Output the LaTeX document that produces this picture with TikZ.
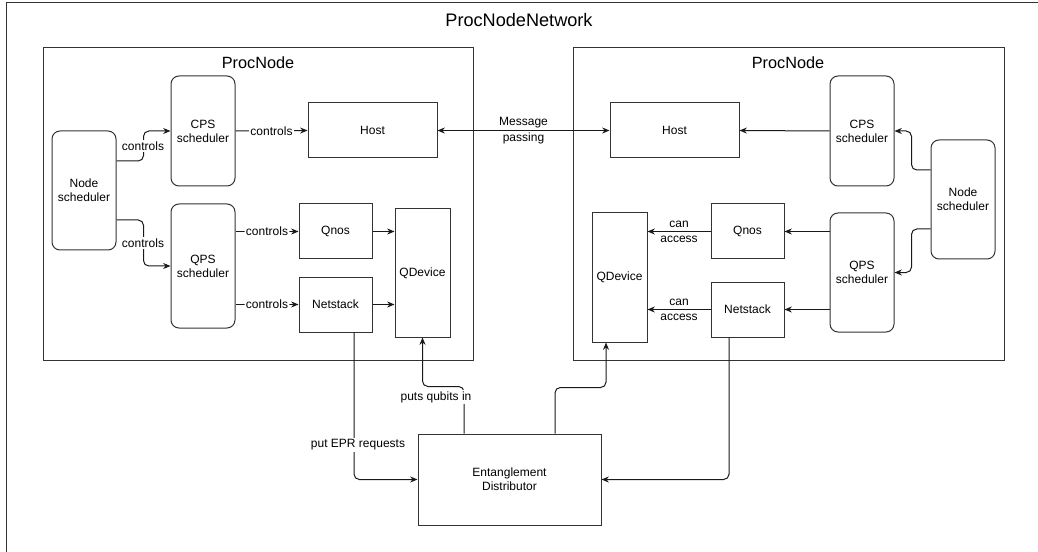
\documentclass[tikz,border=0pt]{standalone}
\usepackage{fontspec}
\setmainfont{Liberation Sans}
\usetikzlibrary{arrows.meta,calc}
\begin{document}
\begin{tikzpicture}[x=0.75pt,y=-0.75pt,
  line width=0.75pt,
  box/.style={draw=black!80, inner sep=0pt, align=center, font=\fontsize{9}{10.5}\selectfont},
  rbox/.style={box, rounded corners=6pt},
  lbl/.style={fill=white, inner sep=1pt, align=center, font=\fontsize{9}{10.5}\selectfont},
  tlbl/.style={inner sep=1pt, align=center, font=\fontsize{9}{11.5}\selectfont},
  arr/.style={draw=black!90, -{Stealth[length=5.5pt,width=4.5pt]}, rounded corners=4pt},
  darr/.style={draw=black!90, {Stealth[length=5.5pt,width=4.5pt]}-{Stealth[length=5.5pt,width=4.5pt]}},
  container/.style={draw=black!80}
]
\clip (0,0) rectangle (1038,552);
\useasboundingbox (0,0) rectangle (1038,552);
% outer frame
\draw[container] (6,3) rectangle (1050,570);
\node[font=\fontsize{13.6}{15}\selectfont] (title) at (519,20) {ProcNodeNetwork};
% containers
\draw[container] (43,48) rectangle (473,360);
\node[font=\fontsize{12.2}{14}\selectfont] (lpn) at (258,63) {ProcNode};
\draw[container] (573,48) rectangle (1004,360);
\node[font=\fontsize{12.2}{14}\selectfont] (rpn) at (788,63) {ProcNode};

% left nodes
\node[rbox, minimum width=48pt, minimum height=89.25pt] (lns) at (84,190.5) {Node\\scheduler};
\node[rbox, minimum width=48pt, minimum height=82.5pt] (lcps) at (203,131) {CPS\\scheduler};
\node[rbox, minimum width=48pt, minimum height=93pt] (lqps) at (203,266) {QPS\\scheduler};
\node[box, minimum width=96.75pt, minimum height=41.25pt] (lhost) at (372.5,130.5) {Host};
\node[box, minimum width=54.75pt, minimum height=41.25pt] (lqnos) at (335.5,231.5) {Qnos};
\node[box, minimum width=54.75pt, minimum height=41.25pt] (lnet) at (335.5,304.5) {Netstack};
\node[box, minimum width=41.25pt, minimum height=96pt] (lqd) at (422.5,273) {QDevice};

% right nodes
\node[box, minimum width=96.75pt, minimum height=41.25pt] (rhost) at (674.5,130.5) {Host};
\node[rbox, minimum width=48pt, minimum height=82.5pt] (rcps) at (862,131) {CPS\\scheduler};
\node[rbox, minimum width=48pt, minimum height=89.25pt] (rns) at (963,199.5) {Node\\scheduler};
\node[rbox, minimum width=48pt, minimum height=89.25pt] (rqps) at (862,272.5) {QPS\\scheduler};
\node[box, minimum width=54.75pt, minimum height=41.25pt] (rqnos) at (747.5,231.5) {Qnos};
\node[box, minimum width=54.75pt, minimum height=41.25pt] (rnet) at (747.5,309.5) {Netstack};
\node[box, minimum width=41.25pt, minimum height=96.75pt] (rqd) at (619.5,277.5) {QDevice};

% entanglement distributor
\node[box, minimum width=137.25pt, minimum height=68.25pt] (ed) at (509.5,479.5) {Entanglement\\Distributor};

% left connectors
\draw[arr] ([yshift=22.125pt]lns.east) -- ++(27,0) |- (lcps.west);
\node[lbl] (lc1) at (143,146) {controls};
\draw[arr] ([yshift=-22.125pt]lns.east) -- ++(27,0) |- (lqps.west);
\node[lbl] (lc2) at (143,243) {controls};
\draw[arr] (lcps.east) -- (lhost.west) node[lbl, midway] (lc3) {controls};
\draw[arr] (lqps.east |- lqnos.west) -- (lqnos.west) node[lbl, midway] (lc4) {controls};
\draw[arr] (lqps.east |- lnet.west) -- (lnet.west) node[lbl, midway] (lc5) {controls};
\draw[arr] (lqnos.east) -- (lqd.west |- lqnos.east);
\draw[arr] (lnet.east) -- (lqd.west |- lnet.east);

% message passing
\draw[darr] (lhost.east) -- (rhost.west) node[tlbl, midway] (mp) {Message\\passing};

% right connectors
\draw[arr] (rcps.west) -- (rhost.east);
\draw[arr] ([yshift=22.125pt]rns.west) -- ++(-19,0) |- (rcps.east);
\draw[arr] ([yshift=-22.125pt]rns.west) -- ++(-19,0) |- (rqps.east);
\draw[arr] (rqps.west |- rqnos.east) -- (rqnos.east);
\draw[arr] (rqps.west |- rnet.east) -- (rnet.east);
\draw[arr] (rqnos.west) -- (rqd.east |- rqnos.west) node[tlbl, midway] (rc1) {can\\access};
\draw[arr] (rnet.west) -- (rqd.east |- rnet.west) node[tlbl, midway] (rc2) {can\\access};

% entanglement distributor connectors
\draw[arr] ([xshift=13.875pt]lnet.south) |- (ed.west);
\node[lbl] (epr) at (358,445) {put EPR requests};
\draw[arr] ([xshift=-34.125pt]ed.north) -- ++(0,-47) -| (lqd.south);
\node[lbl] (pq) at (436,397) {puts qubits in};
\draw[arr] ([xshift=34.125pt]ed.north) -- ++(0,-46) -| ([xshift=-10.125pt]rqd.south);
\draw[arr] ([xshift=-13.875pt]rnet.south) |- (ed.east);
\end{tikzpicture}
\end{document}
